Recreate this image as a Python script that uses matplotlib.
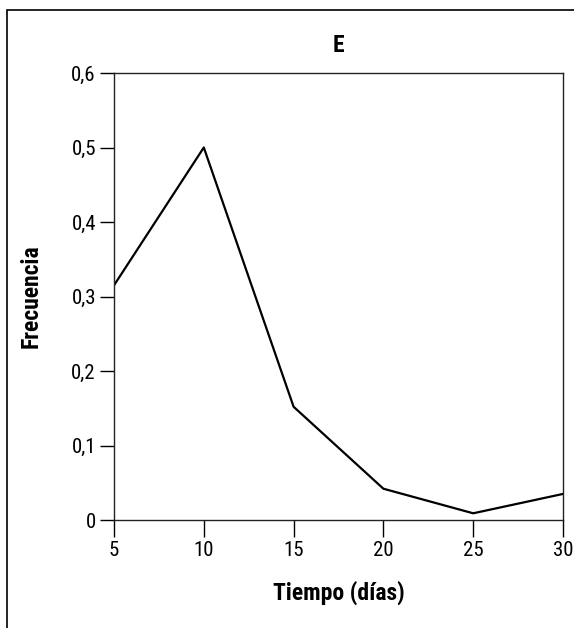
import matplotlib
matplotlib.use('Agg')
import matplotlib.pyplot as plt
from matplotlib import font_manager
from matplotlib.patches import Rectangle

# fuente estrecha si existe
nombres = {f.name for f in font_manager.fontManager.ttflist}
for fam in ['Roboto Condensed', 'Liberation Sans Narrow', 'Open Sans Condensed', 'Liberation Sans']:
    if fam in nombres:
        break
plt.rcParams['font.family'] = [fam, 'DejaVu Sans']

# datos
tiempo = [5, 10, 15, 20, 25, 30]
frecuencia = [0.315, 0.50, 0.152, 0.042, 0.009, 0.035]
yticks = [0, 0.1, 0.2, 0.3, 0.4, 0.5, 0.6]
ytick_labels = ['0', '0,1', '0,2', '0,3', '0,4', '0,5', '0,6']

fig = plt.figure(figsize=(5.74, 6.28), dpi=100)
ax = fig.add_axes([114/574, 1 - 520/628, (563-114)/574, (520-73)/628])

ax.plot(tiempo, frecuencia, color='black', lw=1.6)
ax.set_xlim(5, 30)
ax.set_ylim(0, 0.6)
ax.set_xticks(tiempo)
ax.set_yticks(yticks)
ax.set_yticklabels(ytick_labels)
ax.tick_params(direction='out', length=10, width=1, labelsize=15, colors='black')
ax.tick_params(axis='x', length=12, pad=3)
ax.tick_params(axis='y', pad=3)
for s in ax.spines.values():
    s.set_linewidth(1)
    s.set_color('#222222')

ax.set_title('E', fontsize=17, fontweight='bold', pad=15)
ax.set_xlabel('Tiempo (días)', fontsize=17, fontweight='bold', labelpad=15)
ax.set_ylabel('Frecuencia', fontsize=17, fontweight='bold', labelpad=21)

# marco exterior
fig.patches.append(Rectangle((7/574, -0.1), 1.2, 1 - 10/628 + 0.1,
                             transform=fig.transFigure, fill=False,
                             edgecolor='black', lw=1.2))

fig.savefig('out.png', dpi=100)
